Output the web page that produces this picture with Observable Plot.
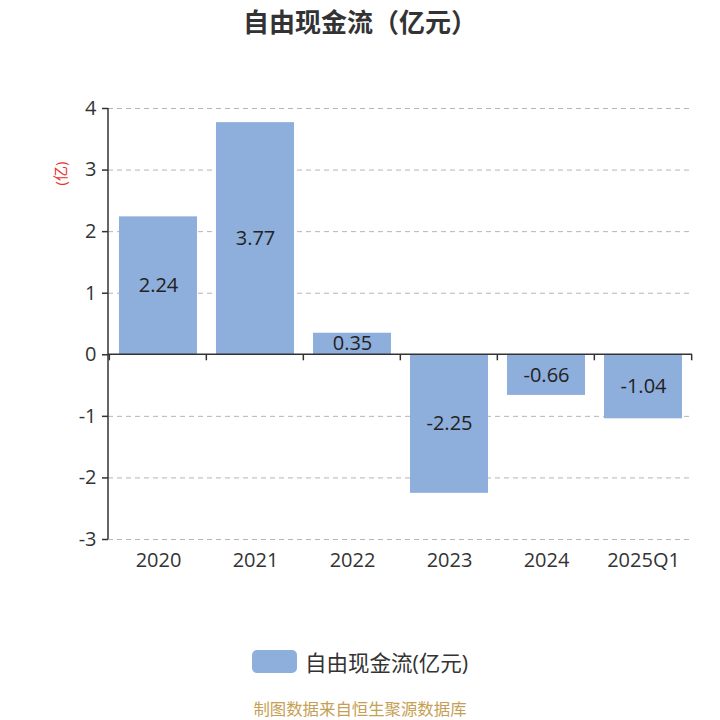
<!DOCTYPE html>
<html>
<head>
<meta charset="utf-8">
<script src="https://cdn.jsdelivr.net/npm/d3@7"></script>
<script src="https://cdn.jsdelivr.net/npm/@observablehq/plot@0.6"></script>
<style>
  body { margin: 0; background: #fff; font-family: "Open Sans", "Noto Sans CJK SC", sans-serif; }
  #wrap { width: 720px; }
  #title { height: 45px; line-height: 45px; text-align: center; font-size: 26px; font-weight: bold; color: #333; box-sizing: border-box; }
  #legend { margin-top: 29px; height: 24px; display: flex; justify-content: center; align-items: center; font-size: 21.5px; color: #333; }
  #legend .sw { width: 45px; height: 23px; border-radius: 5px; background: #8eaedb; margin-right: 8px; }
  #caption { margin-top: 25px; height: 22px; line-height: 22px; text-align: center; font-size: 16.4px; color: #c5a054; }
</style>
</head>
<body>
<div id="wrap">
  <div id="title">自由现金流（亿元）</div>
  <div id="chart"></div>
  <div id="legend"><div class="sw"></div><span>自由现金流(亿元)</span></div>
  <div id="caption">制图数据来自恒生聚源数据库</div>
</div>
<script>
const categories = ["2020", "2021", "2022", "2023", "2024", "2025Q1"];
const values = [2.24, 3.77, 0.35, -2.25, -0.66, -1.04];
const yTicks = [-3, -2, -1, 0, 1, 2, 3, 4];
const gridTicks = [-3, -2, -1, 1, 2, 3, 4];

const data = categories.map((c, i) => ({cat: c, value: values[i]}));

function axisDecor(index, scales, vals, dim) {
  const x = scales.x, y = scales.y;
  const n = categories.length;
  const step = (dim.width - dim.marginLeft - dim.marginRight) / n;
  const bw = x.bandwidth ? x.bandwidth() : 0;
  const g = d3.create("svg:g");
  const left = dim.marginLeft, right = dim.width - dim.marginRight;
  g.append("line").attr("x1", left).attr("x2", left)
    .attr("y1", y(d3.max(yTicks))).attr("y2", y(d3.min(yTicks)))
    .attr("stroke", "#333").attr("stroke-width", 1.5);
  g.append("line").attr("x1", left).attr("x2", right)
    .attr("y1", y(0)).attr("y2", y(0))
    .attr("stroke", "#333").attr("stroke-width", 1.5);
  const bounds = categories.map(c => x(c) + bw / 2 - step / 2);
  bounds.push(x(categories[n - 1]) + bw / 2 + step / 2);
  for (const bx of bounds) {
    g.append("line").attr("x1", bx).attr("x2", bx)
      .attr("y1", y(0)).attr("y2", y(0) + 6)
      .attr("stroke", "#333").attr("stroke-width", 1.5);
  }
  return g.node();
}

const chart = Plot.plot({
  width: 720,
  height: 575,
  marginTop: 63,
  marginBottom: 81,
  marginLeft: 108,
  marginRight: 28,
  style: { fontFamily: '"Open Sans", "Noto Sans CJK SC", sans-serif', background: "#fff", overflow: "visible" },
  x: { domain: categories, paddingInner: 0.2, paddingOuter: 0.1, label: null },
  y: { domain: [-3, 4], label: null },
  marks: [
    Plot.gridY(gridTicks, { stroke: "#b5b5b5", strokeOpacity: 1, strokeDasharray: "5,4" }),
    Plot.barY(data, { x: "cat", y: "value", fill: "#8eaedb" }),
    Plot.text(data, { x: "cat", y: d => d.value / 2, text: d => d.value.toFixed(2), fontSize: 20, fill: "#222" }),
    Plot.axisY({ ticks: yTicks, tickSize: 6, tickPadding: 6, fontSize: 20, color: "#333", stroke: "#333", strokeWidth: 1.5, tickFormat: d => String(d), label: null }),
    Plot.axisX({ anchor: "bottom", tickSize: 0, tickPadding: 13, fontSize: 20, color: "#333", label: null }),
    Plot.text(["(亿)"], { frameAnchor: "top-left", dx: -53, dy: 77, rotate: -90, fill: "#e8332a", fontSize: 15 }),
    axisDecor
  ]
});
document.getElementById("chart").appendChild(chart);
</script>
</body>
</html>
